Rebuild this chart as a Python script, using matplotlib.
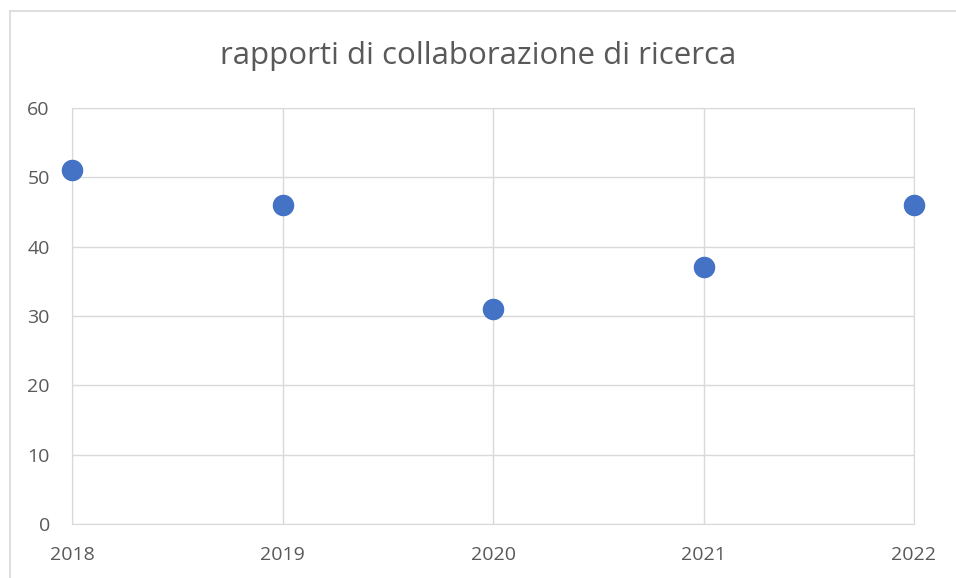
import matplotlib.pyplot as plt
from matplotlib.lines import Line2D

# dati
anni = [2018, 2019, 2020, 2021, 2022]
valori = [51, 46, 31, 37, 46]
y_ticks = [0, 10, 20, 30, 40, 50, 60]

plt.rcParams['font.family'] = ['Open Sans', 'DejaVu Sans']

fig = plt.figure(figsize=(9.56, 5.78), dpi=100)
ax = fig.add_axes([72 / 956, 1 - 524 / 578, (914 - 72) / 956, (524 - 108) / 578])

# cornice esterna (solo bordo sinistro e superiore visibili)
fig.add_artist(Line2D([9.5 / 956, 9.5 / 956], [0, 1 - 11 / 578], color='#d9d9d9', lw=1.2))
fig.add_artist(Line2D([9.5 / 956, 1], [1 - 11 / 578, 1 - 11 / 578], color='#d9d9d9', lw=1.2))

ax.scatter(anni, valori, s=210, color='#4472c4', zorder=3, clip_on=False)

ax.set_xlim(2018, 2022)
ax.set_ylim(0, 60)
ax.set_xticks(anni)
ax.set_yticks(y_ticks)
ax.grid(True, color='#d9d9d9', linewidth=1)
ax.set_axisbelow(True)
for s in ax.spines.values():
    s.set_color('#d9d9d9')
ax.tick_params(length=0, colors='#595959', labelsize=14)
ax.tick_params(axis='x', pad=16)
ax.tick_params(axis='y', pad=16)
for lab in ax.get_yticklabels():
    lab.set_horizontalalignment('right')

fig.text(0.5, 1 - 56 / 578, 'rapporti di collaborazione di ricerca', ha='center', va='center',
         fontsize=22.5, color='#595959')

fig.savefig('out.png', dpi=100)
